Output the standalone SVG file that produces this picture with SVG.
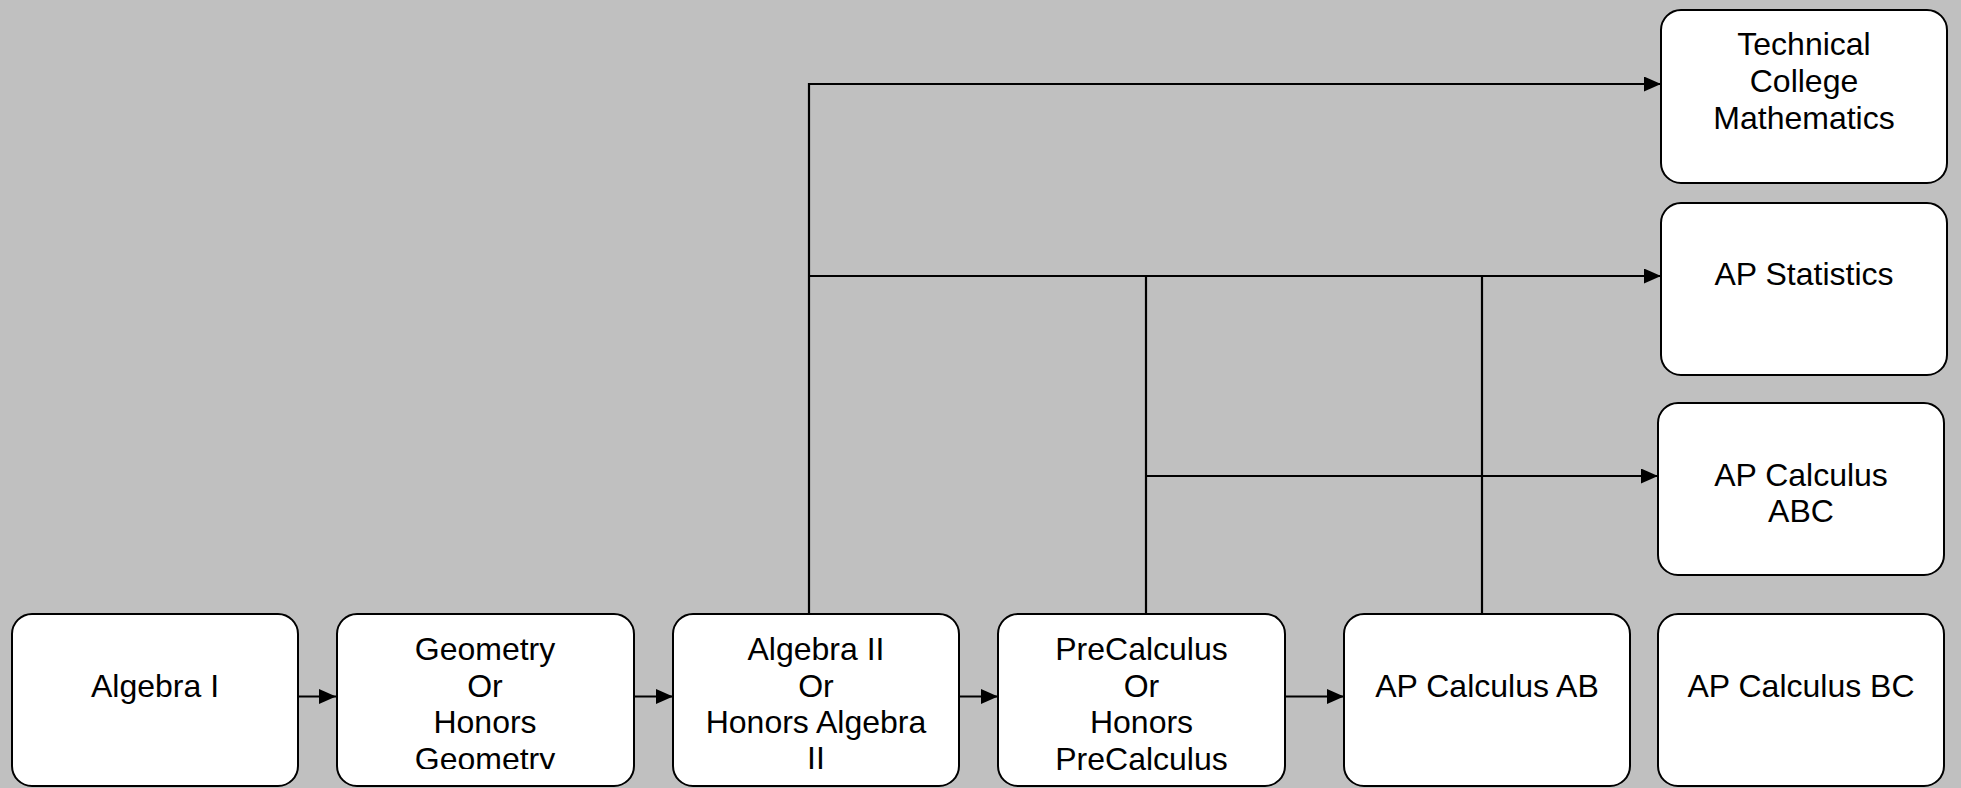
<svg xmlns="http://www.w3.org/2000/svg" width="1961" height="788" viewBox="0 0 1961 788">
<style>
.box{fill:#ffffff;stroke:#000000;stroke-width:2}
.lbl{font-family:"Liberation Sans",Arial,sans-serif;font-size:32px;fill:#000000;text-anchor:middle}
.conn{fill:none;stroke:#000000;stroke-width:2.2}
</style>
<defs>
<marker id="arr" markerUnits="userSpaceOnUse" markerWidth="17" markerHeight="15" refX="17" refY="7.5" orient="auto">
<path d="M0,0 L17,7.5 L0,15 Z" fill="#000000"/>
</marker>
<clipPath id="clipGeo"><rect x="337" y="614" width="297" height="155"/></clipPath>
<clipPath id="clipPre"><rect x="998" y="614" width="287" height="156"/></clipPath>
</defs>
<rect x="0" y="0" width="1961" height="788" fill="#c0c0c0"/>
<g id="connectors">
<path class="conn" d="M298,696.5 H336" marker-end="url(#arr)"/>
<path class="conn" d="M634,696.5 H673" marker-end="url(#arr)"/>
<path class="conn" d="M959,696.5 H998" marker-end="url(#arr)"/>
<path class="conn" d="M1285,696.5 H1344" marker-end="url(#arr)"/>
<path class="conn" d="M809,614 V84 H1661" marker-end="url(#arr)"/>
<path class="conn" d="M809,276 H1661" marker-end="url(#arr)"/>
<path class="conn" d="M1146,614 V276"/>
<path class="conn" d="M1482,614 V276"/>
<path class="conn" d="M1146,476 H1658" marker-end="url(#arr)"/>
</g>
<g id="algebra1">
<rect class="box" x="12" y="614" width="286" height="172" rx="20"/>
<text class="lbl" x="155" y="697">Algebra I</text>
</g>
<g id="geometry">
<rect class="box" x="337" y="614" width="297" height="172" rx="20"/>
<g clip-path="url(#clipGeo)">
<text class="lbl" x="485" y="660">Geometry</text>
<text class="lbl" x="485" y="697">Or</text>
<text class="lbl" x="485" y="733">Honors</text>
<text class="lbl" x="485" y="770">Geometry</text>
</g>
</g>
<g id="algebra2">
<rect class="box" x="673" y="614" width="286" height="172" rx="20"/>
<text class="lbl" x="816" y="660">Algebra II</text>
<text class="lbl" x="816" y="697">Or</text>
<text class="lbl" x="816" y="733">Honors Algebra</text>
<text class="lbl" x="816" y="769">II</text>
</g>
<g id="precalculus">
<rect class="box" x="998" y="614" width="287" height="172" rx="20"/>
<g clip-path="url(#clipPre)">
<text class="lbl" x="1141.5" y="660">PreCalculus</text>
<text class="lbl" x="1141.5" y="697">Or</text>
<text class="lbl" x="1141.5" y="733">Honors</text>
<text class="lbl" x="1141.5" y="770">PreCalculus</text>
</g>
</g>
<g id="apcalcab">
<rect class="box" x="1344" y="614" width="286" height="172" rx="20"/>
<text class="lbl" x="1487" y="697">AP Calculus AB</text>
</g>
<g id="apcalcbc">
<rect class="box" x="1658" y="614" width="286" height="172" rx="20"/>
<text class="lbl" x="1801" y="697">AP Calculus BC</text>
</g>
<g id="technical">
<rect class="box" x="1661" y="10" width="286" height="173" rx="20"/>
<text class="lbl" x="1804" y="55">Technical</text>
<text class="lbl" x="1804" y="92">College</text>
<text class="lbl" x="1804" y="129">Mathematics</text>
</g>
<g id="apstats">
<rect class="box" x="1661" y="203" width="286" height="172" rx="20"/>
<text class="lbl" x="1804" y="285">AP Statistics</text>
</g>
<g id="apcalcabc">
<rect class="box" x="1658" y="403" width="286" height="172" rx="20"/>
<text class="lbl" x="1801" y="486">AP Calculus</text>
<text class="lbl" x="1801" y="522">ABC</text>
</g>
</svg>
